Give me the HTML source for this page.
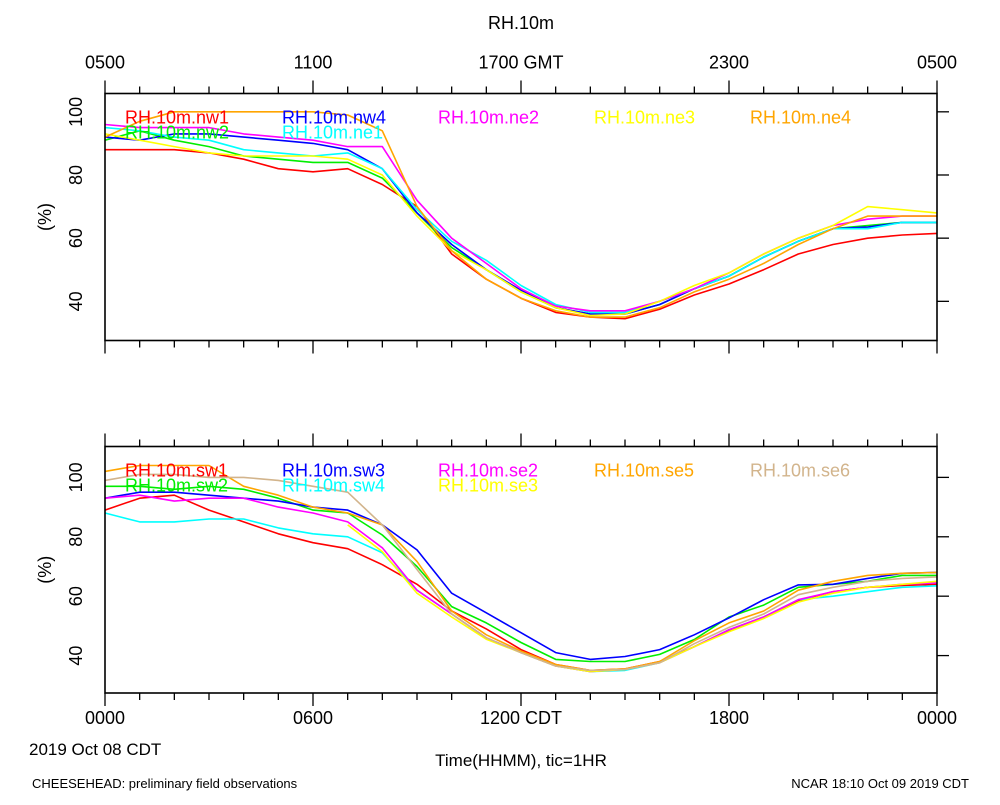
<!DOCTYPE html>
<html><head><meta charset="utf-8"><style>
body{margin:0;background:#fff;}
svg text{font-family:"Liberation Sans",sans-serif;}
</style></head><body>
<svg id="chart" width="1000" height="800" xmlns="http://www.w3.org/2000/svg">
<text x="521" y="29" font-size="18" text-anchor="middle">RH.10m</text>
<g id="top"></g>
<g id="bot"></g>
<text x="29" y="755" font-size="17">2019 Oct 08 CDT</text>
<text x="521" y="766" font-size="17" text-anchor="middle">Time(HHMM), tic=1HR</text>
<text x="32" y="788" font-size="13">CHEESEHEAD: preliminary field observations</text>
<text x="969" y="788" font-size="13" text-anchor="end">NCAR 18:10 Oct 09 2019 CDT</text>
</svg>
<script>
const hours=[0,1,2,3,4,5,6,7,8,9,10,11,12,13,14,15,16,17,18,19,20,21,22,23,24];
const topLabels=["0500","1100","1700 GMT","2300","0500"];
const botLabels=["0000","0600","1200 CDT","1800","0000"];
const yTicks=[40,60,80,100];
const topNames=["RH.10m.nw1","RH.10m.nw2","RH.10m.nw4","RH.10m.ne1","RH.10m.ne2","RH.10m.ne3","RH.10m.ne4"];
const topColors=["#ff0000","#00ee00","#0000ff","#00ffff","#ff00ff","#ffff00","#ffa500"];
const nw1=[88,88,88,87,85,82,81,82,77,70,55,47,41,36.5,35,34.5,37.5,42,45.5,50,55,58,60,61,61.5];
const nw2=[91,94,91,89,86,85,84,84,79,68,57,50,43,38,36,36,39,44,48,54,59,63,64,65,65];
const nw4=[92,91,93,93,92,91,90,88,82,68,58,50,43.5,38,36,36,39,44,48,54,59,63,63.5,65,65];
const ne1=[95,94,92,91,88,87,86,87,82,69,59,53,45,39,36.5,36.5,40,44,48,54,59,63,63,65,65];
const ne2=[96,95,95,95,93,92,91,89,89,72,60,52,44,38.5,37,37,40,44,49,55,60,64,66,67,67];
const ne3=[93,91,89,87,86,86,86,85,80,67,56,50,43,38,35.5,36,40,45,49,55,60,64,70,69,68];
const ne4=[92,97,100,100,100,100,100,99,94,70,56,47,41,37,35,35,38,43,47,52,58,63,67,67,67];
const botNames=["RH.10m.sw1","RH.10m.sw2","RH.10m.sw3","RH.10m.sw4","RH.10m.se2","RH.10m.se3","RH.10m.se5","RH.10m.se6"];
const botColors=["#ff0000","#00ee00","#0000ff","#00ffff","#ff00ff","#ffff00","#ffa500","#d2b48c"];
const sw1=[89,93,94,89,85,81,78,76,70.6,64,55,49,42,37,35,35.5,38,43,48.5,53,58.5,61.5,63,63.6,64];
const sw2=[97,97,96,97,96,93,89,88,80.6,70,56.5,51,44.4,38.7,38,38,40.4,45.4,53,57,63,64,65,67,67];
const sw3=[93,95,95,94,93,92,90,89,84,75.6,61,54.4,47.7,41,38.7,39.7,42,47,52.7,58.8,63.8,64,66,67.7,68];
const sw4=[88,85,85,86,86,83,81,80,74.6,62,54,46,41,36.5,34.6,35,37.6,43,48.7,53,58.8,60,61.5,63,63.5];
const se2=[93,94,92,93,93,90,88,85,76.3,62,54,46,41,36.5,34.6,35.3,37.6,43,48.7,53,58.8,61.5,63,64,64.5];
const se3=[null,null,null,null,null,null,null,84,75,61,53,45.5,41,36.5,34.6,35.3,37.6,43,48,52.5,58,61,63,64,65];
const se5=[102,104,104,104,97,94,90,88,84,71.7,55,47,41.5,37,35,35.5,38,45,51,55,62,65,67,67.7,68];
const se6=[99,101,101,100,100,99,97,95,84,69,54,46,41,36.5,35,35.3,37.6,44,49.5,54,60.5,63,65,66,66.5];
const topSeries=[nw1,nw2,nw4,ne1,ne2,ne3,ne4];
const botSeries=[sw1,sw2,sw3,sw4,se2,se3,se5,se6];
const NS="http://www.w3.org/2000/svg";
const X0=105,X1=937;
const xs=h=>X0+(X1-X0)*h/24;
function mk(parent,tag,attrs){const e=document.createElementNS(NS,tag);for(const k in attrs)e.setAttribute(k,attrs[k]);parent.appendChild(e);return e;}
function panel(g,top,bot,vTop,vBot,series,colors,names,labelsTop,labelsBot,cols,rows){
  const ys=v=>top+(vTop-v)*(bot-top)/(vTop-vBot);
  for(let i=0;i<series.length;i++){
    let d="";let pen=false;
    series[i].forEach((v,j)=>{if(v===null){pen=false;return;}d+=(pen?"L":"M")+xs(hours[j]).toFixed(1)+" "+ys(v).toFixed(1);pen=true;});
    const p=mk(g,"path",{d:d,fill:"none",stroke:colors[i],"stroke-width":"1.6","stroke-linejoin":"round"});
    
    
  }
  const r=mk(g,"rect",{x:X0,y:top,width:X1-X0,height:bot-top,fill:"none",stroke:"#000","stroke-width":"1.6"});
  
  
  for(let h=0;h<=24;h++){
    const x=xs(h),L=h%6===0?13:7;
    const t1=mk(g,"line",{x1:x,x2:x,y1:top,y2:top-L,stroke:"#000","stroke-width":"1.3"});
    
    
    const t2=mk(g,"line",{x1:x,x2:x,y1:bot,y2:bot+L,stroke:"#000","stroke-width":"1.3"});
    
    
  }
  for(let i=0;i<5;i++){
    if(labelsTop){const t=mk(g,"text",{x:xs(i*6),y:top-25,"font-size":"18","text-anchor":"middle"});t.textContent=labelsTop[i];
      
      }
    if(labelsBot){const t=mk(g,"text",{x:xs(i*6),y:bot+31,"font-size":"18","text-anchor":"middle"});t.textContent=labelsBot[i];
      
      }
  }
  yTicks.forEach(v=>{
    const y=ys(v);
    const tk=mk(g,"line",{x1:X1,x2:X1+12,y1:y,y2:y,stroke:"#000","stroke-width":"1.3"});
    
    
    const t=mk(g,"text",{x:0,y:0,"font-size":"18","text-anchor":"middle",transform:`translate(82,${y}) rotate(-90)`});
    t.textContent=v;
    
    
  });
  const yt=mk(g,"text",{x:0,y:0,"font-size":"18","text-anchor":"middle",transform:`translate(51,${(top+bot)/2}) rotate(-90)`});
  yt.textContent="(%)";
  
  
  const lx=[125,282,438,594,750];
  names.forEach((n,i)=>{
    const t=mk(g,"text",{x:lx[cols[i]],y:top+30+rows[i]*15,"font-size":"18",fill:colors[i]});
    t.textContent=n;
    
    
  });
}
panel(document.getElementById("top"),93.5,340.5,105.8,27.6,topSeries,topColors,topNames,topLabels,null,[0,0,1,1,2,3,4],[0,1,0,1,0,0,0]);
panel(document.getElementById("bot"),446.5,693,110.4,27.4,botSeries,botColors,botNames,null,botLabels,[0,0,1,1,2,2,3,4],[0,1,0,1,0,1,0,0]);
</script>
</body></html>
